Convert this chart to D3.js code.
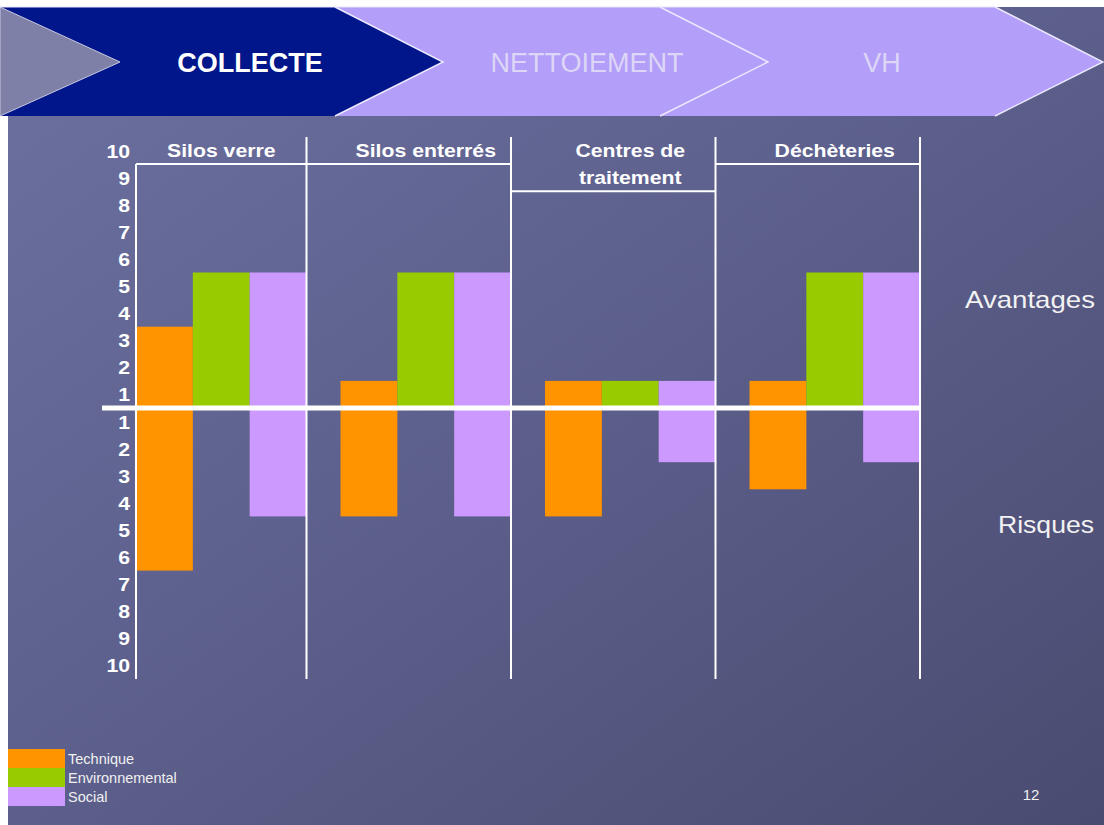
<!DOCTYPE html>
<html><head><meta charset="utf-8">
<script src="https://cdn.jsdelivr.net/npm/d3@7"></script>
<style>
html,body{margin:0;padding:0;background:#fff;}
svg{display:block;font-family:"Liberation Sans",Arial,sans-serif;}
</style></head>
<body>
<svg id="chart" width="1104" height="825"></svg>
<script>
// ---- data ----
const categories = ["Silos verre", "Silos enterrés", "Centres de traitement", "Déchèteries"];
const categoryLines = [["Silos verre"], ["Silos enterrés"], ["Centres de", "traitement"], ["Déchèteries"]];
const series = ["Technique", "Environnemental", "Social"];
const avantagesTechnique = [3, 1, 1, 1];
const avantagesEnvironnemental = [5, 5, 1, 5];
const avantagesSocial = [5, 5, 1, 5];
const risquesTechnique = [6, 4, 4, 3];
const risquesEnvironnemental = [0, 0, 0, 0];
const risquesSocial = [4, 4, 2, 2];
const tickLabels = [1, 2, 3, 4, 5, 6, 7, 8, 9, 10];
const steps = ["COLLECTE", "NETTOIEMENT", "VH"];
const colors = ["#ff9300", "#99cc00", "#cc99ff"];

const svg = d3.select("#chart");
const W = 1104, H = 825;

// ---- background ----
const defs = svg.append("defs");
const g1 = defs.append("linearGradient").attr("id", "bg").attr("x1", "0").attr("y1", "0").attr("x2", "1").attr("y2", "1");
g1.append("stop").attr("offset", "0").attr("stop-color", "#6d71a0");
g1.append("stop").attr("offset", "0.5").attr("stop-color", "#5c5f8b");
g1.append("stop").attr("offset", "1").attr("stop-color", "#4a4b70");
svg.append("rect").attr("x", 8).attr("y", 7).attr("width", W - 8).attr("height", H - 7).attr("fill", "url(#bg)");

// ---- banner ----
const bTop = 7, bBot = 116, bMid = 62;
const banner = svg.append("g");
const ends = [335, 660, 995];
const depth = 108;
const chevron = (x0, x1, notch) => {
  const p = [[x0, bTop], [x1, bTop], [x1 + depth, bMid], [x1, bBot], [x0, bBot]];
  if (notch) p.push([x0 + depth, bMid]);
  return p;
};
banner.append("polygon").attr("points", chevron(0, ends[2], true).join(" ")).attr("fill", "#b39ef9");
banner.append("polygon").attr("points", chevron(0, ends[0], false).join(" ")).attr("fill", "#00168a");
banner.append("polygon").attr("points", [[0, bTop], [120, bMid], [0, bBot]].join(" ")).attr("fill", "#7e80a8").attr("stroke", "#c8c8e0").attr("stroke-width", 1);
ends.forEach(xe => {
  banner.append("polyline").attr("points", [[xe, bTop], [xe + depth, bMid], [xe, bBot]].join(" "))
    .attr("fill", "none").attr("stroke", "#ece8ff").attr("stroke-width", 1.5);
});
banner.append("line").attr("x1", 0).attr("x2", ends[2]).attr("y1", bTop).attr("y2", bTop).attr("stroke", "#e8e4ff").attr("stroke-width", 1);
const stepCenters = [250, 587, 882];
steps.forEach((s, i) => {
  banner.append("text").attr("x", stepCenters[i]).attr("y", 72).attr("text-anchor", "middle")
    .attr("font-size", 27).attr("font-weight", i === 0 ? "bold" : "normal")
    .attr("fill", i === 0 ? "#ffffff" : "#ddd6f6").text(s);
});

// ---- scales ----
const y = d3.scaleLinear().domain([-10, 10]).range([679, 137]);
const x = d3.scaleBand().domain(categories).range([102, 920]).paddingInner(0).paddingOuter(0);
const step = x.step();
const xs = d3.scaleBand().domain(series).range([step * 0.1663, step]).padding(0);
const axisX = x(categories[0]) + xs(series[0]);

const chart = svg.append("g");
const stretch = 1.18;

// bars
const pos = [avantagesTechnique, avantagesEnvironnemental, avantagesSocial];
const neg = [risquesTechnique, risquesEnvironnemental, risquesSocial];
const bars = [];
categories.forEach((c, ci) => {
  series.forEach((s, si) => {
    bars.push({c, s, si, v: pos[si][ci]});
    bars.push({c, s, si, v: -neg[si][ci]});
  });
});
chart.selectAll("rect.bar").data(bars.filter(d => d.v !== 0)).join("rect")
  .attr("class", "bar")
  .attr("x", d => x(d.c) + xs(d.s))
  .attr("width", xs.bandwidth())
  .attr("y", d => y(Math.max(0, d.v)))
  .attr("height", d => Math.abs(y(d.v) - y(0)))
  .attr("fill", d => colors[d.si]);

// vertical separators
chart.append("line").attr("x1", axisX).attr("x2", axisX).attr("y1", y(9)).attr("y2", y(-10))
  .attr("stroke", "#fff").attr("stroke-width", 2);
categories.forEach((c) => {
  const xr = x(c) + step;
  chart.append("line").attr("x1", xr).attr("x2", xr).attr("y1", y(10)).attr("y2", y(-10))
    .attr("stroke", "#fff").attr("stroke-width", 2);
});
// headers
categories.forEach((c, ci) => {
  const lines = categoryLines[ci];
  const lineY = y(10 - lines.length);
  const x0 = Math.max(x(c), axisX), x1 = x(c) + step;
  chart.append("line").attr("x1", x0).attr("x2", x1).attr("y1", lineY).attr("y2", lineY)
    .attr("stroke", "#fff").attr("stroke-width", 2);
  const cx = x(c) + xs(series[0]) + (step - xs(series[0])) / 2;
  lines.forEach((l, li) => {
    chart.append("text").attr("transform", `translate(${cx},${y(9.5 - li) + 6.5}) scale(${stretch},1)`)
      .attr("text-anchor", "middle").attr("font-size", 18).attr("font-weight", "bold")
      .attr("fill", "#fff").text(l);
  });
});

// y axis labels
const ticks = tickLabels.map(t => t - 0.5).concat(tickLabels.map(t => -(t - 0.5)));
const yAxis = d3.axisLeft(y).tickValues(ticks).tickSize(0).tickPadding(0)
  .tickFormat(d => String(Math.abs(d) + 0.5));
const ax = chart.append("g").attr("transform", `translate(${axisX - 6},0)`).call(yAxis);
ax.select(".domain").remove();
ax.selectAll(".tick text").attr("font-size", 18).attr("font-weight", "bold").attr("fill", "#fff")
  .attr("font-family", "Liberation Sans, Arial, sans-serif")
  .attr("x", 0).attr("dy", "0.36em").attr("transform", `scale(${stretch},1)`);

// zero line
chart.append("line").attr("x1", x(categories[0])).attr("x2", x(categories[categories.length - 1]) + step)
  .attr("y1", y(0)).attr("y2", y(0)).attr("stroke", "#fff").attr("stroke-width", 5);

// side labels
chart.append("text").attr("x", 1095).attr("y", 308).attr("text-anchor", "end").attr("font-size", 24)
  .attr("fill", "#f2f2f2").attr("textLength", 130).attr("lengthAdjust", "spacingAndGlyphs").text("Avantages");
chart.append("text").attr("x", 1094).attr("y", 533).attr("text-anchor", "end").attr("font-size", 24)
  .attr("fill", "#f2f2f2").attr("textLength", 96).attr("lengthAdjust", "spacingAndGlyphs").text("Risques");

// legend
const leg = svg.append("g").attr("transform", "translate(8,749)");
series.forEach((s, i) => {
  leg.append("rect").attr("x", 0).attr("y", i * 19).attr("width", 57).attr("height", 19).attr("fill", colors[i]);
  leg.append("text").attr("x", 60).attr("y", i * 19 + 14.5).attr("font-size", 14.5).attr("fill", "#f0f0f0")
    .attr("transform", null).text(s);
});

// page number
svg.append("text").attr("x", 1031).attr("y", 800).attr("text-anchor", "middle").attr("font-size", 15)
  .attr("fill", "#f0f0f0").text("12");
</script>
</body></html>
